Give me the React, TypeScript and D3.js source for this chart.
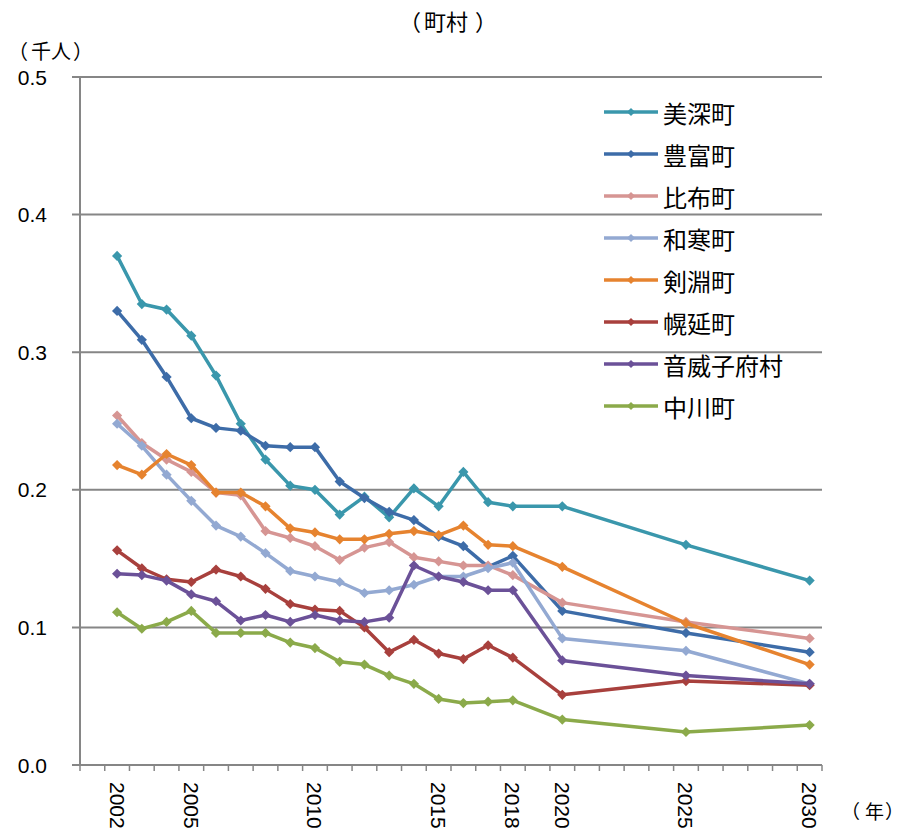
import React from "react";
import * as d3 from "d3";

const years = [2002, 2003, 2004, 2005, 2006, 2007, 2008, 2009, 2010, 2011, 2012, 2013, 2014, 2015, 2016, 2017, 2018, 2020, 2025, 2030];
const labeledYears = [2002, 2005, 2010, 2015, 2018, 2020, 2025, 2030];
const yTicks = [0, 0.1, 0.2, 0.3, 0.4, 0.5];

const seriesNames = ["美深町", "豊富町", "比布町", "和寒町", "剣淵町", "幌延町", "音威子府村", "中川町"];
const seriesColors = ["#3A97AC", "#3D6CA8", "#D69593", "#93A9D2", "#E6832F", "#A8403D", "#6B5198", "#8BAA4A"];

const bifuka = [0.370, 0.335, 0.331, 0.312, 0.283, 0.248, 0.222, 0.203, 0.200, 0.182, 0.195, 0.180, 0.201, 0.188, 0.213, 0.191, 0.188, 0.188, 0.160, 0.134];
const toyotomi = [0.330, 0.309, 0.282, 0.252, 0.245, 0.243, 0.232, 0.231, 0.231, 0.206, 0.194, 0.184, 0.178, 0.166, 0.159, 0.144, 0.152, 0.112, 0.096, 0.082];
const pippu = [0.254, 0.234, 0.222, 0.213, 0.198, 0.196, 0.170, 0.165, 0.159, 0.149, 0.158, 0.162, 0.151, 0.148, 0.145, 0.145, 0.138, 0.118, 0.104, 0.092];
const wassamu = [0.248, 0.232, 0.211, 0.192, 0.174, 0.166, 0.154, 0.141, 0.137, 0.133, 0.125, 0.127, 0.131, 0.137, 0.137, 0.143, 0.147, 0.092, 0.083, 0.059];
const kembuchi = [0.218, 0.211, 0.226, 0.218, 0.198, 0.198, 0.188, 0.172, 0.169, 0.164, 0.164, 0.168, 0.170, 0.167, 0.174, 0.160, 0.159, 0.144, 0.103, 0.073];
const horonobe = [0.156, 0.143, 0.135, 0.133, 0.142, 0.137, 0.128, 0.117, 0.113, 0.112, 0.100, 0.082, 0.091, 0.081, 0.077, 0.087, 0.078, 0.051, 0.061, 0.058];
const otoineppu = [0.139, 0.138, 0.134, 0.124, 0.119, 0.105, 0.109, 0.104, 0.109, 0.105, 0.104, 0.107, 0.145, 0.137, 0.133, 0.127, 0.127, 0.076, 0.065, 0.059];
const nakagawa = [0.111, 0.099, 0.104, 0.112, 0.096, 0.096, 0.096, 0.089, 0.085, 0.075, 0.073, 0.065, 0.059, 0.048, 0.045, 0.046, 0.047, 0.033, 0.024, 0.029];

const seriesValues = [bifuka, toyotomi, pippu, wassamu, kembuchi, horonobe, otoineppu, nakagawa];

const W = 908;
const H = 831;
const left = 80;
const right = 822;
const top = 77;
const bottom = 765;
const FONT = "'Liberation Sans', Arial, 'Noto Sans CJK JP', sans-serif";
const CJK = "'Noto Sans CJK JP', 'Liberation Sans', sans-serif";
const GRID = "#868686";

export default function App() {
  const x = d3.scaleLinear().domain([2000.5, 2030.5]).range([left, right]);
  const y = d3.scaleLinear().domain([0, 0.5]).range([bottom, top]);
  const line = d3
    .line<number>()
    .x((_, i) => x(years[i]))
    .y((d) => y(d));
  const marker = d3.symbol(d3.symbolSquare, 52)() as string;
  const markerSmall = d3.symbol(d3.symbolSquare, 34)() as string;
  const yearTicks = d3.range(2000.5, 2031, 1);

  return (
    <svg width={W} height={H} style={{ position: "absolute", left: 0, top: 0, background: "#fff" }}>
      <rect x={0} y={0} width={W} height={H} fill="#fff" />
      {yTicks.map((t) => (
        <line key={t} x1={left - 8} x2={right} y1={y(t)} y2={y(t)} stroke={GRID} strokeWidth={2} />
      ))}
      <line x1={left} x2={left} y1={top} y2={bottom} stroke={GRID} strokeWidth={2} />
      {yearTicks.map((t) => (
        <line key={t} x1={x(t)} x2={x(t)} y1={bottom} y2={bottom + 6} stroke={GRID} strokeWidth={1.5} />
      ))}
      {yTicks.map((t) => (
        <text key={t} x={47} y={y(t)} textAnchor="end" dominantBaseline="central" fontFamily={FONT} fontSize={21} fill="#000">
          {t.toFixed(1)}
        </text>
      ))}
      {labeledYears.map((yr) => (
        <text
          key={yr}
          transform={`translate(${x(yr)},782) rotate(90)`}
          textAnchor="start"
          dominantBaseline="central"
          fontFamily={FONT}
          fontSize={21}
          fill="#000"
        >
          {yr}
        </text>
      ))}
      <text y={20} dominantBaseline="central" fontFamily={CJK} fontSize={22} fill="#000">
        <tspan x={399}>（</tspan>
        <tspan x={424}>町村</tspan>
        <tspan x={475}>）</tspan>
      </text>
      <text y={50} dominantBaseline="central" fontFamily={CJK} fontSize={20} fill="#000">
        <tspan x={8}>（</tspan>
        <tspan x={31}>千人</tspan>
        <tspan x={73}>）</tspan>
      </text>
      <text y={810} dominantBaseline="central" fontFamily={CJK} fontSize={19} fill="#000">
        <tspan x={841}>（</tspan>
        <tspan x={865}>年</tspan>
        <tspan x={885}>）</tspan>
      </text>
      {seriesValues.map((vals, si) => (
        <g key={si}>
          <path d={line(vals) as string} fill="none" stroke={seriesColors[si]} strokeWidth={3.5} strokeLinejoin="round" />
          {vals.map((v, i) => (
            <path key={i} d={marker} transform={`translate(${x(years[i])},${y(v)}) rotate(45)`} fill={seriesColors[si]} />
          ))}
        </g>
      ))}
      {seriesNames.map((name, i) => {
        const ly = 112 + i * 42;
        return (
          <g key={name}>
            <line x1={604} x2={658} y1={ly} y2={ly} stroke={seriesColors[i]} strokeWidth={3.5} />
            <path d={markerSmall} transform={`translate(631,${ly}) rotate(45)`} fill={seriesColors[i]} />
            <text x={663} y={ly} dominantBaseline="central" fontFamily={CJK} fontSize={24} fill="#000">
              {name}
            </text>
          </g>
        );
      })}
    </svg>
  );
}
